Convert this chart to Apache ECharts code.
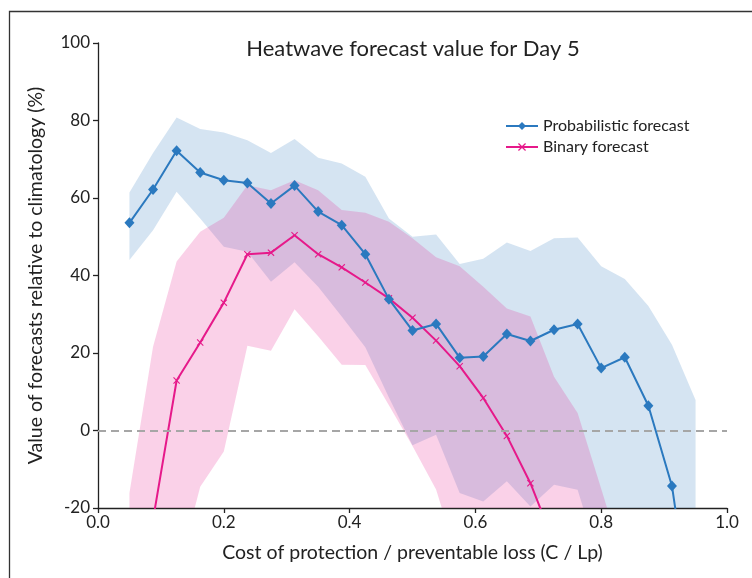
<!DOCTYPE html>
<html>
<head>
<meta charset="utf-8">
<script src="https://cdn.jsdelivr.net/npm/echarts@6/dist/echarts.min.js"></script>
<style>
html,body{margin:0;padding:0;background:#fff;}
#chart{width:752px;height:578px;}
</style>
</head>
<body>
<div id="chart"></div>
<script>
// Cost/loss ratio (x positions)
const costLoss = [0.05,0.0875,0.125,0.1625,0.2,0.2375,0.275,0.3125,0.35,0.3875,0.425,0.4625,0.5,0.5375,0.575,0.6125,0.65,0.6875,0.725,0.7625,0.8,0.8375,0.875,0.9125,0.95];

// Probabilistic forecast
const probValue = [53.6,62.2,72.2,66.6,64.6,63.9,58.6,63.2,56.5,53.0,45.5,33.9,25.8,27.5,18.8,19.1,24.9,23.1,26.0,27.5,16.1,18.9,6.4,-14.3,-56];
const probUpper = [61.4,71.6,80.8,77.8,76.9,74.9,71.6,75.2,70.4,68.9,65.5,54.7,50.0,50.6,43.0,44.3,48.5,46.3,49.6,49.8,42.4,39.1,32.1,22.1,7.9];
const probLower = [44.0,51.7,61.6,54.7,47.4,46.1,38.4,43.4,37.1,29.4,21.5,8.5,-3.8,-1.1,-16.1,-18.3,-13.1,-19.6,-14.0,-15.3,-35,-45,-55,-70,-80];

// Binary forecast
const binValue = [null,-23,12.9,22.7,33.0,45.5,45.9,50.4,45.5,42.1,38.2,34.1,29.1,23.2,16.6,8.4,-1.4,-13.6,-29,null,null,null,null,null,null];
const binUpper = [-16.1,21.6,43.6,51.3,54.9,63.3,62.0,64.6,62.0,56.9,56.2,53.9,49.6,44.7,42.4,37.1,31.5,29.4,13.9,4.5,-15,-35,-50,-60,-70];
const binLower = [-60,-50,-38,-14.5,-5.4,21.9,20.6,31.3,24.3,17.0,16.9,6.5,-4.0,-15.2,-35,-45,-55,-60,-65,-70,-75,-80,-85,-90,-95];

// Axis ticks
const yTicks = {min:-20, max:100, step:20};
const xTicks = {min:0, max:1, step:0.2};

const BLUE = '#2b79bf';
const PINK = '#e6198a';
const FONT = 'Lato';

const pairs = (ys) => costLoss.map((x,i) => [x, ys[i]]);
const bandData = (up, lo) => costLoss.map((x,i) => [x, up[i], lo[i]]);

function bandRenderer(up, lo, color) {
  return function (params, api) {
    if (params.dataIndex !== 0) return null;
    const pts = [];
    for (let i = 0; i < costLoss.length; i++) pts.push(api.coord([costLoss[i], up[i]]));
    for (let i = costLoss.length - 1; i >= 0; i--) pts.push(api.coord([costLoss[i], lo[i]]));
    const cs = params.coordSys;
    return {
      type:'group',
      children:[{
        type:'polygon',
        shape:{points:pts},
        style:{fill:color, opacity:0.2, stroke:'none'}
      }],
      clipPath:{type:'rect', shape:{x:cs.x, y:cs.y, width:cs.width, height:cs.height}}
    };
  };
}

const xMark = 'path://M0,1.1L1.1,0L5,3.9L8.9,0L10,1.1L6.1,5L10,8.9L8.9,10L5,6.1L1.1,10L0,8.9L3.9,5Z';

const chart = echarts.init(document.getElementById('chart'), null, {renderer:'canvas'});
chart.setOption({
  animation:false,
  backgroundColor:'#fff',
  textStyle:{fontFamily:FONT},
  title:{
    text:'Heatwave forecast value for Day 5',
    left:408, top:33, textAlign:'center',
    textStyle:{fontFamily:FONT, fontSize:22, fontWeight:'normal', color:'#222'}
  },
  legend:{
    data:[{name:'Probabilistic forecast'},{name:'Binary forecast'}],
    orient:'vertical', left:500, top:113, itemGap:5,
    itemWidth:32, itemHeight:10,
    textStyle:{fontFamily:FONT, fontSize:16, color:'#222'}
  },
  grid:{left:98, right:25, top:43, bottom:70, containLabel:false},
  xAxis:{
    type:'value', min:xTicks.min, max:xTicks.max, interval:xTicks.step,
    name:'Cost of protection / preventable loss (C / Lp)',
    nameLocation:'middle', nameGap:35,
    nameTextStyle:{fontFamily:FONT, fontSize:19.5, color:'#222'},
    axisLine:{onZero:false, lineStyle:{color:'#222', width:1.3}},
    axisTick:{length:5, lineStyle:{color:'#222', width:1.3}},
    axisLabel:{fontFamily:FONT, fontSize:17, color:'#222', margin:6, formatter:v=>v.toFixed(1)},
    splitLine:{show:false}
  },
  yAxis:{
    type:'value', min:yTicks.min, max:yTicks.max, interval:yTicks.step,
    name:'Value of forecasts relative to climatology (%)',
    nameLocation:'middle', nameGap:52, nameRotate:90,
    nameTextStyle:{fontFamily:FONT, fontSize:19.5, color:'#222'},
    axisLine:{show:true, onZero:false, lineStyle:{color:'#222', width:1.3}},
    axisTick:{show:true, length:5, lineStyle:{color:'#222', width:1.3}},
    axisLabel:{fontFamily:FONT, fontSize:17, color:'#222', margin:8},
    splitLine:{show:false}
  },
  graphic:[{
    type:'rect', silent:true, z:-1,
    shape:{x:9.5, y:11.5, width:800, height:700},
    style:{fill:'none', stroke:'#333', lineWidth:1.3}
  }],
  series:[
    {
      name:'probBand', type:'custom', data:bandData(probUpper, probLower),
      encode:{x:0, y:[1,2]}, renderItem:bandRenderer(probUpper, probLower, BLUE),
      silent:true, clip:true, z:1
    },
    {
      name:'binBand', type:'custom', data:bandData(binUpper, binLower),
      encode:{x:0, y:[1,2]}, renderItem:bandRenderer(binUpper, binLower, PINK),
      silent:true, clip:true, z:2
    },
    {
      name:'zero', type:'line', data:[], silent:true, z:3,
      markLine:{
        silent:true, symbol:['none','none'], label:{show:false},
        lineStyle:{color:'#a6a6a6', type:[8,5], width:2},
        data:[{yAxis:0}]
      }
    },
    {
      name:'Binary forecast', type:'line', data:pairs(binValue),
      color:PINK, lineStyle:{color:PINK, width:2},
      symbol:xMark, symbolSize:7, itemStyle:{color:PINK},
      clip:true, z:4
    },
    {
      name:'Probabilistic forecast', type:'line', data:pairs(probValue),
      color:BLUE, lineStyle:{color:BLUE, width:2},
      symbol:'diamond', symbolSize:[10,11], itemStyle:{color:BLUE},
      clip:true, z:5
    }
  ]
});
</script>
</body>
</html>
